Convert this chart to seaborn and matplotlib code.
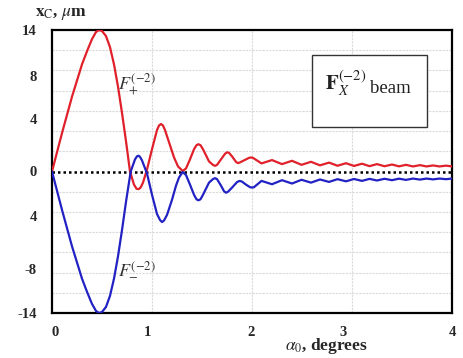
import numpy as np
import pandas as pd
import matplotlib
matplotlib.use("Agg")
import matplotlib.pyplot as plt
import seaborn as sns
from matplotlib.patches import Rectangle

# values (angle in degrees, x_C in um)
angle_plus = [0, 0.1, 0.2, 0.3, 0.35, 0.4, 0.44, 0.47, 0.5, 0.54, 0.58, 0.62, 0.66,
              0.7, 0.74, 0.78, 0.82, 0.845, 0.865, 0.885, 0.91, 0.95, 1.0, 1.05,
              1.07, 1.09, 1.11, 1.13, 1.18, 1.22, 1.26, 1.307, 1.34, 1.38, 1.42,
              1.445, 1.464, 1.485, 1.51, 1.57, 1.61, 1.63, 1.65, 1.69, 1.73, 1.75,
              1.77, 1.8, 1.84, 1.86, 1.88, 1.93, 1.97, 1.99, 2.01,
              2.095, 2.2, 2.3, 2.4, 2.495, 2.59, 2.68, 2.77, 2.855, 2.94,
              3.02, 3.1, 3.175, 3.25, 3.325, 3.4, 3.47, 3.54, 3.61, 3.68, 3.745,
              3.81, 3.875, 3.94, 4.0]
xc_plus = [0, 3.8, 7.4, 10.6, 11.9, 13.1, 13.8, 14.0, 13.9, 13.4, 12.3, 10.6, 8.4,
           5.8, 3.0, 0.0, -1.3, -1.7, -1.75, -1.6, -1.1, 0.2, 2.2, 4.1,
           4.55, 4.7, 4.55, 4.1, 2.6, 1.4, 0.5, 0.05, 0.3, 1.2, 2.2,
           2.6, 2.7, 2.6, 2.2, 1.0, 0.65, 0.56, 0.65, 1.2, 1.75, 1.9,
           1.85, 1.5, 0.95, 0.83, 0.9, 1.15, 1.35, 1.39, 1.35,
           0.8, 1.13, 0.73, 1.06, 0.66, 0.96, 0.61, 0.88, 0.57, 0.82,
           0.55, 0.77, 0.53, 0.73, 0.52, 0.69, 0.51, 0.66, 0.5, 0.63, 0.5,
           0.6, 0.5, 0.58, 0.5]

angle_minus = [0, 0.1, 0.2, 0.3, 0.35, 0.4, 0.44, 0.47, 0.5, 0.54, 0.58, 0.62, 0.66,
               0.7, 0.74, 0.787, 0.83, 0.85, 0.865, 0.88, 0.9, 0.95, 1.0, 1.05,
               1.08, 1.1, 1.12, 1.15, 1.2, 1.24, 1.27, 1.307, 1.34, 1.38, 1.42,
               1.445, 1.464, 1.485, 1.51, 1.57, 1.61, 1.63, 1.65, 1.69, 1.72, 1.74,
               1.76, 1.8, 1.85, 1.876, 1.9, 1.94, 1.98, 2.0, 2.02,
               2.095, 2.2, 2.3, 2.4, 2.495, 2.59, 2.68, 2.77, 2.855, 2.94,
               3.02, 3.1, 3.175, 3.25, 3.325, 3.4, 3.47, 3.54, 3.61, 3.68, 3.745,
               3.81, 3.875, 3.94, 4.0]
xc_minus = [0, -3.8, -7.4, -10.6, -11.9, -13.1, -13.8, -14.0, -13.9, -13.4, -12.3, -10.6, -8.4,
            -5.8, -3.0, 0.0, 1.2, 1.5, 1.56, 1.45, 1.1, -0.2, -2.3, -4.2,
            -4.8, -5.0, -4.85, -4.3, -2.8, -1.4, -0.6, -0.05, -0.35, -1.3, -2.3,
            -2.75, -2.85, -2.75, -2.3, -1.1, -0.75, -0.66, -0.75, -1.4, -1.95, -2.1,
            -2.0, -1.6, -1.05, -0.93, -1.0, -1.3, -1.55, -1.59, -1.55,
            -0.93, -1.26, -0.86, -1.19, -0.82, -1.1, -0.79, -1.03, -0.76, -0.97,
            -0.74, -0.93, -0.73, -0.89, -0.72, -0.86, -0.71, -0.83, -0.7, -0.8, -0.7,
            -0.78, -0.7, -0.76, -0.7]

ytick_pos = [14, 9.4, 5.2, 0, -4.4, -9.6, -14]
ytick_labels = ["14", "8", "4", "0", "4", "-8", "-14"]
xtick_pos = [0.03, 0.955, 1.99, 2.91, 4.0]
xtick_labels = ["0", "1", "2", "3", "4"]

sns.set_theme(style="white")
plt.rcParams["font.family"] = ["Liberation Serif", "DejaVu Serif"]
plt.rcParams["mathtext.fontset"] = "stix"

fig = plt.figure(figsize=(4.64, 3.58), dpi=100)
ax = fig.add_axes([52 / 464, 1 - 313 / 358, 400 / 464, 283 / 358])

# light grid
for g in np.arange(-12, 13, 2):
    if g != 0:
        ax.axhline(g, color="#dadada", lw=0.8, ls=(0, (2, 1)), zorder=0)
for g in [1, 2, 3]:
    ax.axvline(g, color="#dadada", lw=0.8, ls=(0, (2, 1)), zorder=0)
ax.axhline(0, color="black", lw=1.8, ls=(0, (1, 1.2)), zorder=1)

plus = pd.DataFrame({"angle": angle_plus, "xc": xc_plus})
minus = pd.DataFrame({"angle": angle_minus, "xc": xc_minus})
sns.lineplot(data=plus, x="angle", y="xc", ax=ax, color="#e0202a", lw=1.6, zorder=3)
sns.lineplot(data=minus, x="angle", y="xc", ax=ax, color="#2222c4", lw=1.6, zorder=3)

ax.set_xlim(0, 4)
ax.set_ylim(-14, 14)
ax.set_yticks(ytick_pos)
ax.set_yticklabels(ytick_labels)
ax.set_xticks(xtick_pos)
ax.set_xticklabels(xtick_labels)
ax.tick_params(axis="both", length=0, labelsize=10.5)
ax.tick_params(axis="y", pad=11)
ax.tick_params(axis="x", pad=9)
for lab in ax.get_xticklabels() + ax.get_yticklabels():
    lab.set_fontweight("bold")
for sp in ax.spines.values():
    sp.set_color("black")
    sp.set_linewidth(1.6)

ax.set_ylabel("")
ax.set_xlabel(r"$\alpha_0$, degrees", fontsize=12.5, fontweight="bold")
ax.xaxis.set_label_coords((326 - 52) / 400, -0.08)

fig.text(35 / 464, 1 - 14 / 358, r"$\mathbf{x}_{\mathrm{C}}$, $\mu$m", fontsize=12.5,
         fontweight="bold", va="center", ha="left")

ax.text(0.665, 8.6, r"$F_{+}^{(-2)}$", fontsize=13, color="#333333",
        va="center", ha="left")
ax.text(0.665, -9.6, r"$F_{-}^{(-2)}$", fontsize=13, color="#333333",
        va="center", ha="left")

box = Rectangle((0.65, 0.657), 0.2875, 0.255, transform=ax.transAxes,
                facecolor="white", edgecolor="#333333", lw=1.0, zorder=4)
ax.add_patch(box)
ax.text(0.683, 0.81, r"$\mathbf{F}_{X}^{(-2)}$", transform=ax.transAxes,
        fontsize=15, va="center", ha="left", zorder=5, color="#222222")
ax.text(0.795, 0.795, "beam", transform=ax.transAxes, fontsize=13.5,
        va="center", ha="left", zorder=5, color="#222222")

fig.savefig("out.png", dpi=100)
